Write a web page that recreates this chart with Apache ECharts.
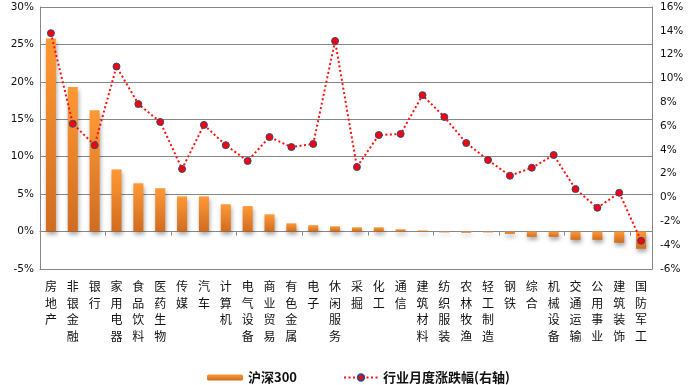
<!DOCTYPE html>
<html>
<head>
<meta charset="utf-8">
<script src="https://cdn.jsdelivr.net/npm/echarts@6/dist/echarts.min.js"></script>
<style>html,body{margin:0;padding:0;background:#fff;}#c{width:692px;height:385px;}</style>
</head>
<body>
<div id="c"></div>
<script>
const categories = ['房地产','非银金融','银行','家用电器','食品饮料','医药生物','传媒','汽车','计算机','电气设备','商业贸易','有色金属','电子','休闲服务','采掘','化工','通信','建筑材料','纺织服装','农林牧渔','轻工制造','钢铁','综合','机械设备','交通运输','公用事业','建筑装饰','国防军工'];
const hs300 = [25.8,19.3,16.2,8.3,6.45,5.8,4.7,4.7,3.65,3.4,2.3,1.1,0.85,0.7,0.57,0.57,0.3,0.15,-0.1,-0.15,-0.1,-0.3,-0.7,-0.7,-1.1,-1.1,-1.5,-2.3];
const industry = [13.8,6.2,4.4,11.0,7.85,6.35,2.4,6.1,4.4,3.07,5.08,4.24,4.5,13.15,2.56,5.25,5.34,8.6,6.76,4.58,3.15,1.83,2.5,3.57,0.71,-0.86,0.4,-3.63];
const leftTicks = {min:-5, max:30, interval:5};
const rightTicks = {min:-6, max:16, interval:2};

const axisFont = {fontFamily:'DejaVu Sans', fontSize:10.5, color:'#111'};
const gray = '#878787';
const chart = echarts.init(document.getElementById('c'));
chart.setOption({
  animation:false,
  grid:{left:40, right:40, top:7, bottom:116},
  legend:[
    {data:['沪深300'], left:202, top:366, itemWidth:36, itemHeight:6, itemGap:10,
     textStyle:{fontFamily:'Noto Sans CJK SC', fontWeight:'bold', fontSize:13, color:'#111'}},
    {data:['行业月度涨跌幅(右轴)'], left:338, top:366, itemWidth:34, itemHeight:8,
     textStyle:{fontFamily:'Noto Sans CJK SC', fontWeight:'bold', fontSize:13, color:'#111'}}
  ],
  xAxis:[
    {type:'category', data:categories, position:'bottom', boundaryGap:true,
     axisLine:{onZero:false, lineStyle:{color:gray}}, axisTick:{show:false},
     axisLabel:{interval:0, margin:9, fontFamily:'Noto Sans CJK SC', fontSize:12, lineHeight:16.7, color:'#111',
       verticalAlign:'top', formatter:v=>v.split('').join('\n')}},
    {type:'category', data:categories, position:'top', boundaryGap:true,
     axisLine:{onZero:true, onZeroAxisIndex:0, lineStyle:{color:gray}},
     axisTick:{show:true, inside:true, length:4, lineStyle:{color:gray}},
     axisLabel:{show:false}}
  ],
  yAxis:[
    {type:'value', min:leftTicks.min, max:leftTicks.max, interval:leftTicks.interval, position:'left',
     axisLine:{show:true, lineStyle:{color:gray}}, axisTick:{show:false},
     splitLine:{show:true, lineStyle:{color:gray, width:1}},
     axisLabel:Object.assign({formatter:'{value}%', margin:6}, axisFont)},
    {type:'value', min:rightTicks.min, max:rightTicks.max, interval:rightTicks.interval, position:'right',
     axisLine:{show:true, lineStyle:{color:gray}}, axisTick:{show:false},
     splitLine:{show:false},
     axisLabel:Object.assign({formatter:'{value}%', margin:8}, axisFont)}
  ],
  series:[
    {name:'沪深300', type:'bar', xAxisIndex:0, yAxisIndex:0, data:hs300, barWidth:10,
     itemStyle:{
       color:new echarts.graphic.LinearGradient(0,0,0,1,[{offset:0,color:'#FF9935'},{offset:1,color:'#CF6C20'}]),
       shadowColor:'rgba(0,0,0,0.35)', shadowBlur:4, shadowOffsetY:3, shadowOffsetX:1
     }},
    {name:'行业月度涨跌幅(右轴)', type:'line', xAxisIndex:0, yAxisIndex:1, data:industry,
     symbol:'circle', symbolSize:7, z:5,
     lineStyle:{color:'#FF1010', width:2, type:[2,2.5]},
     itemStyle:{color:'#FF0000', borderColor:'#2E4A88', borderWidth:1}}
  ]
});
</script>
</body>
</html>
